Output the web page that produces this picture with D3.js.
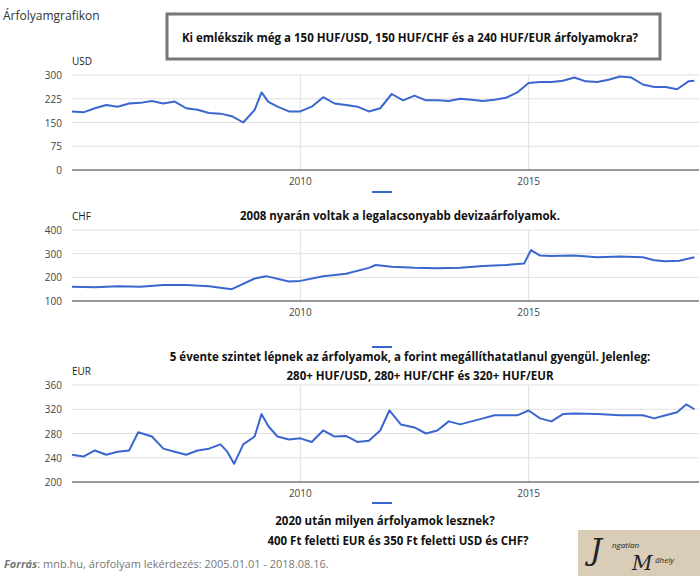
<!DOCTYPE html>
<html><head><meta charset="utf-8">
<script src="https://cdn.jsdelivr.net/npm/d3@7"></script>
<style>body{margin:0;background:#fff;font-family:"Open Sans",sans-serif}</style>
</head><body><svg id="c" width="700" height="576"></svg>
<script>
const yearTicks = [2010, 2015];
const usdDates = [2005.0,2005.25,2005.5,2005.75,2006.0,2006.25,2006.5,2006.75,2007.0,2007.25,2007.5,2007.75,2008.0,2008.25,2008.5,2008.75,2009.0,2009.15,2009.3,2009.5,2009.75,2010.0,2010.25,2010.5,2010.75,2011.0,2011.25,2011.5,2011.75,2012.0,2012.25,2012.5,2012.75,2013.0,2013.25,2013.5,2013.75,2014.0,2014.25,2014.5,2014.75,2015.0,2015.25,2015.5,2015.75,2016.0,2016.25,2016.5,2016.75,2017.0,2017.25,2017.5,2017.75,2018.0,2018.25,2018.5,2018.63];
const usdValues = [185,182,195,205,200,210,212,218,210,216,195,190,180,178,170,150,190,245,215,200,185,185,200,230,210,205,200,185,195,240,220,235,220,220,218,225,222,218,222,228,245,275,278,278,282,292,280,278,285,295,292,270,262,262,255,280,282];
const chfDates = [2005.0,2005.5,2006.0,2006.5,2007.0,2007.5,2008.0,2008.5,2009.0,2009.25,2009.75,2010.0,2010.5,2011.0,2011.5,2011.65,2012.0,2012.5,2013.0,2013.5,2014.0,2014.5,2014.9,2015.05,2015.25,2015.5,2016.0,2016.5,2017.0,2017.5,2017.75,2018.0,2018.3,2018.63];
const chfValues = [160,158,162,160,168,168,162,150,195,205,182,185,205,215,240,252,245,240,238,240,248,252,258,315,292,290,292,285,288,285,272,268,270,285];
const eurDates = [2005.0,2005.25,2005.5,2005.75,2006.0,2006.25,2006.45,2006.75,2007.0,2007.25,2007.5,2007.75,2008.0,2008.25,2008.4,2008.55,2008.75,2009.0,2009.15,2009.3,2009.5,2009.75,2010.0,2010.25,2010.5,2010.75,2011.0,2011.25,2011.5,2011.75,2011.95,2012.2,2012.5,2012.75,2013.0,2013.25,2013.5,2013.75,2014.0,2014.25,2014.5,2014.75,2015.0,2015.25,2015.5,2015.75,2016.0,2016.5,2017.0,2017.5,2017.75,2018.0,2018.25,2018.45,2018.63];
const eurValues = [245,242,252,245,250,252,282,275,255,250,245,252,255,262,250,230,262,275,312,292,275,270,272,266,285,275,276,266,268,285,318,295,290,280,285,300,295,300,305,310,310,310,318,305,300,312,313,312,310,310,305,310,315,328,320];
const usdTicks = [0,75,150,225,300];
const chfTicks = [100,200,300,400];
const eurTicks = [200,240,280,320,360];

const svg = d3.select("#c");
const x = d3.scaleLinear().domain([2005.0, 2018.73]).range([72, 699]);
const blue = "#3a66d0";

function panel(label, dates, values, ticks, top, bottom, legendY) {
  const y = d3.scaleLinear().domain([ticks[0], ticks[ticks.length-1]]).range([bottom, top]);
  const g = svg.append("g");
  g.selectAll(".h").data(ticks.slice(1)).join("line")
    .attr("x1",72).attr("x2",699).attr("y1",d=>y(d)).attr("y2",d=>y(d)).attr("stroke","#e0e0e0");
  g.selectAll(".v").data(yearTicks).join("line")
    .attr("x1",d=>x(d)).attr("x2",d=>x(d)).attr("y1",top).attr("y2",bottom).attr("stroke","#e0e0e0");
  g.append("line").attr("x1",72).attr("x2",699).attr("y1",bottom).attr("y2",bottom).attr("stroke","#333");
  g.selectAll(".yl").data(ticks).join("text").attr("x",62).attr("y",d=>y(d)+4)
    .attr("text-anchor","end").attr("font-size",10).attr("fill","#444").text(d=>d);
  g.selectAll(".xl").data(yearTicks).join("text").attr("x",d=>x(d)).attr("y",bottom+15)
    .attr("text-anchor","middle").attr("font-size",10).attr("fill","#444").text(d=>d);
  g.append("text").attr("x",72).attr("y",top-10).attr("font-size",10).attr("fill","#222").text(label);
  const data = dates.map((d,i)=>[d, values[i]]);
  g.append("path").datum(data).attr("fill","none").attr("stroke",blue).attr("stroke-width",2)
    .attr("stroke-linejoin","round").attr("d", d3.line().x(d=>x(d[0])).y(d=>y(d[1])));
  g.append("line").attr("x1",372).attr("x2",392).attr("y1",legendY).attr("y2",legendY).attr("stroke",blue).attr("stroke-width",2);
}
panel("USD", usdDates, usdValues, usdTicks, 75, 170, 192);
panel("CHF", chfDates, chfValues, chfTicks, 230, 301, 347);
panel("EUR", eurDates, eurValues, eurTicks, 385, 482, 503);

svg.append("text").attr("x",3).attr("y",20).attr("font-size",12).attr("fill","#333").text("Árfolyamgrafikon");
svg.append("rect").attr("x",167).attr("y",14).attr("width",493).attr("height",45).attr("fill","#fff").attr("stroke","#777").attr("stroke-width",3);
const bold = (t,xx,yy)=>svg.append("text").attr("x",xx).attr("y",yy).attr("text-anchor","middle").attr("font-size",11.5).attr("font-weight","bold").attr("fill","#111").text(t);
bold("Ki emlékszik még a 150 HUF/USD, 150 HUF/CHF és a 240 HUF/EUR árfolyamokra?", 410, 42);
bold("2008 nyarán voltak a legalacsonyabb devizaárfolyamok.", 400, 220);
bold("5 évente szintet lépnek az árfolyamok, a forint megállíthatatlanul  gyengül. Jelenleg:", 410, 361);
bold("280+ HUF/USD, 280+ HUF/CHF és 320+ HUF/EUR", 420, 380);
bold("2020 után milyen árfolyamok lesznek?", 385, 525);
bold("400 Ft feletti EUR és 350 Ft feletti USD és CHF?", 398, 545);
const src = svg.append("text").attr("x",4).attr("y",568).attr("font-size",11).attr("fill","#777");
src.append("tspan").attr("font-weight","bold").attr("font-style","italic").text("Forrás");
src.append("tspan").text(": mnb.hu, árofolyam lekérdezés: 2005.01.01 - 2018.08.16.");
svg.append("rect").attr("x",578).attr("y",530).attr("width",122).attr("height",46).attr("fill","#d9cdb8");
svg.append("text").attr("x",590).attr("y",560).attr("font-size",30).attr("font-family","DejaVu Serif").attr("font-style","italic").attr("fill","#222").text("J");
svg.append("text").attr("x",612).attr("y",548).attr("font-size",8).attr("font-style","italic").attr("fill","#222").text("ngatlan");
svg.append("text").attr("x",632).attr("y",570).attr("font-size",20).attr("font-family","DejaVu Serif").attr("font-style","italic").attr("fill","#222").text("M");
svg.append("text").attr("x",655).attr("y",563).attr("font-size",8).attr("font-style","italic").attr("fill","#222").text("űhely");
</script></body></html>
